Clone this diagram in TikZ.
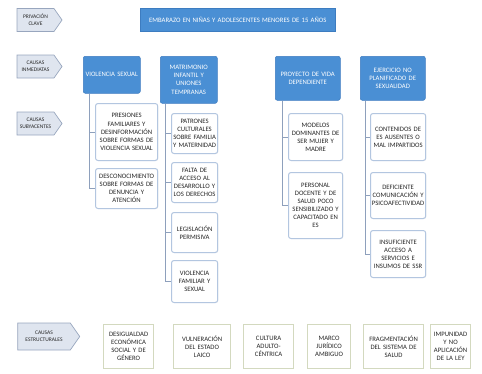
\documentclass[tikz,border=0pt]{standalone}
\usepackage{fontspec}
\setmainfont{Carlito}
\usetikzlibrary{shapes.symbols,shadows}
\definecolor{bluebox}{HTML}{4A8FD4}
\definecolor{bluebord}{HTML}{3D7CC0}
\definecolor{ubord}{HTML}{B3C6E0}
\definecolor{lblfill}{HTML}{DFE5EF}
\definecolor{lblbord}{HTML}{98A6BE}
\definecolor{sbord}{HTML}{D3D9BF}
\definecolor{conncol}{HTML}{8EA0BC}
\definecolor{txt}{HTML}{262626}
\begin{document}
\begin{tikzpicture}[x=1pt,y=-1pt,
  every node/.style={font=\fontsize{6.7}{8.1}\selectfont, align=center, inner sep=0.6pt},
  lbl/.style={signal, signal to=east, signal pointer angle=110, draw=lblbord, fill=lblfill, line width=0.7pt, text=txt, font=\fontsize{5.5}{6.8}\selectfont, inner sep=1.5pt, anchor=center},
  imm/.style={draw=bluebord, fill=bluebox, rounded corners=2pt, text=white, anchor=north west, line width=0.5pt},
  ub/.style={draw=ubord, fill=white, rounded corners=2.5pt, text=txt, anchor=north west, line width=1pt, drop shadow={shadow xshift=0.6pt, shadow yshift=-0.6pt, opacity=0.12}},
  sb/.style={draw=sbord, fill=white, text=txt, anchor=north west, line width=1pt},
  conn/.style={draw=conncol, line width=0.8pt}]
\useasboundingbox (0,0) rectangle (482,373);
% left labels
\node[lbl, minimum width=45, minimum height=23] (l1) at (35.5,20) {PRIVACIÓN\\CLAVE};
\node[lbl, minimum width=45, minimum height=23] (l2) at (35.5,66.5) {CAUSAS\\INMEDIATAS};
\node[lbl, minimum width=45, minimum height=23] (l3) at (35.5,123.5) {CAUSAS\\SUBYACENTES};
\node[lbl, minimum width=62, minimum height=27] (l4) at (44,336.5) {CAUSAS\\ESTRUCTURALES};
% title
\node[imm, rounded corners=0pt, minimum width=195, minimum height=23, text width=193] (t) at (140,8) {EMBARAZO EN NIÑAS Y ADOLESCENTES MENORES DE 15 AÑOS};
% immediate causes
\node[imm, minimum width=57, minimum height=37, text width=55] (vs) at (83,56) {VIOLENCIA SEXUAL};
\node[imm, minimum width=57, minimum height=47, text width=55] (mi) at (160,56) {MATRIMONIO\\INFANTIL Y\\UNIONES\\TEMPRANAS};
\node[imm, minimum width=65, minimum height=44, text width=63] (pv) at (275,56) {PROYECTO DE VIDA\\DEPENDIENTE};
\node[imm, minimum width=65, minimum height=44, text width=63] (ej) at (360,56) {EJERCICIO NO\\PLANIFICADO DE\\SEXUALIDAD};
% column 1
\node[ub, minimum width=62, minimum height=57, text width=61] (u11) at (95,103) {PRESIONES\\FAMILIARES Y\\DESINFORMACIÓN\\SOBRE FORMAS DE\\VIOLENCIA SEXUAL};
\node[ub, minimum width=62, minimum height=40, text width=61] (u12) at (95,168) {DESCONOCIMIENTO\\SOBRE FORMAS DE\\DENUNCIA Y\\ATENCIÓN};
% column 2
\node[ub, minimum width=46, minimum height=40, text width=45] (u21) at (171,113) {PATRONES\\CULTURALES\\SOBRE FAMILIA\\Y MATERNIDAD};
\node[ub, minimum width=46, minimum height=40, text width=45] (u22) at (171,162) {FALTA DE\\ACCESO AL\\DESARROLLO Y\\LOS DERECHOS};
\node[ub, minimum width=46, minimum height=40, text width=45] (u23) at (171,212) {LEGISLACIÓN\\PERMISIVA};
\node[ub, minimum width=46, minimum height=42, text width=45] (u24) at (171,260) {VIOLENCIA\\FAMILIAR Y\\SEXUAL};
% column 3
\node[ub, minimum width=54, minimum height=47, text width=53] (u31) at (288,113) {MODELOS\\DOMINANTES DE\\SER MUJER Y\\MADRE};
\node[ub, minimum width=54, minimum height=66, text width=53] (u32) at (288,172) {PERSONAL\\DOCENTE Y DE\\SALUD POCO\\SENSIBILIZADO Y\\CAPACITADO EN\\ES};
% column 4
\node[ub, minimum width=55, minimum height=47, text width=54] (u41) at (370,113) {CONTENIDOS DE\\ES AUSENTES O\\MAL IMPARTIDOS};
\node[ub, minimum width=55, minimum height=46, text width=54] (u42) at (370,172) {DEFICIENTE\\COMUNICACIÓN Y\\PSICOAFECTIVIDAD};
\node[ub, minimum width=55, minimum height=47, text width=54] (u43) at (370,230) {INSUFICIENTE\\ACCESO A\\SERVICIOS E\\INSUMOS DE SSR};
% connectors
\draw[conn] ([xshift=6pt]vs.south west) |- (u11.west);
\draw[conn] ([xshift=6pt]vs.south west) |- (u12.west);
\draw[conn] ([xshift=5pt]mi.south west) |- (u21.west);
\draw[conn] ([xshift=5pt]mi.south west) |- (u22.west);
\draw[conn] ([xshift=5pt]mi.south west) |- (u23.west);
\draw[conn] ([xshift=5pt]mi.south west) |- (u24.west);
\draw[conn] ([xshift=7pt]pv.south west) |- (u31.west);
\draw[conn] ([xshift=7pt]pv.south west) |- (u32.west);
\draw[conn] ([xshift=5pt]ej.south west) |- (u41.west);
\draw[conn] ([xshift=5pt]ej.south west) |- (u42.west);
\draw[conn] ([xshift=5pt]ej.south west) |- (u43.west);
% structural causes
\node[sb, minimum width=50, minimum height=44, text width=49] (s1) at (103,324) {DESIGUALDAD\\ECONÓMICA\\SOCIAL Y DE\\GÉNERO};
\node[sb, minimum width=57, minimum height=44, text width=56] (s2) at (173,324) {VULNERACIÓN\\DEL ESTADO\\LAICO};
\node[sb, minimum width=50, minimum height=44, text width=49] (s3) at (243,324) {CULTURA\\ADULTO-\\CÉNTRICA};
\node[sb, minimum width=43, minimum height=44, text width=42] (s4) at (307,324) {MARCO\\JURÍDICO\\AMBIGUO};
\node[sb, minimum width=60, minimum height=44, text width=59] (s5) at (363,324) {FRAGMENTACIÓN\\DEL SISTEMA DE\\SALUD};
\node[sb, minimum width=40, minimum height=44, text width=39] (s6) at (430,324) {IMPUNIDAD\\Y NO\\APLICACIÓN\\DE LA LEY};
\end{tikzpicture}
\end{document}
